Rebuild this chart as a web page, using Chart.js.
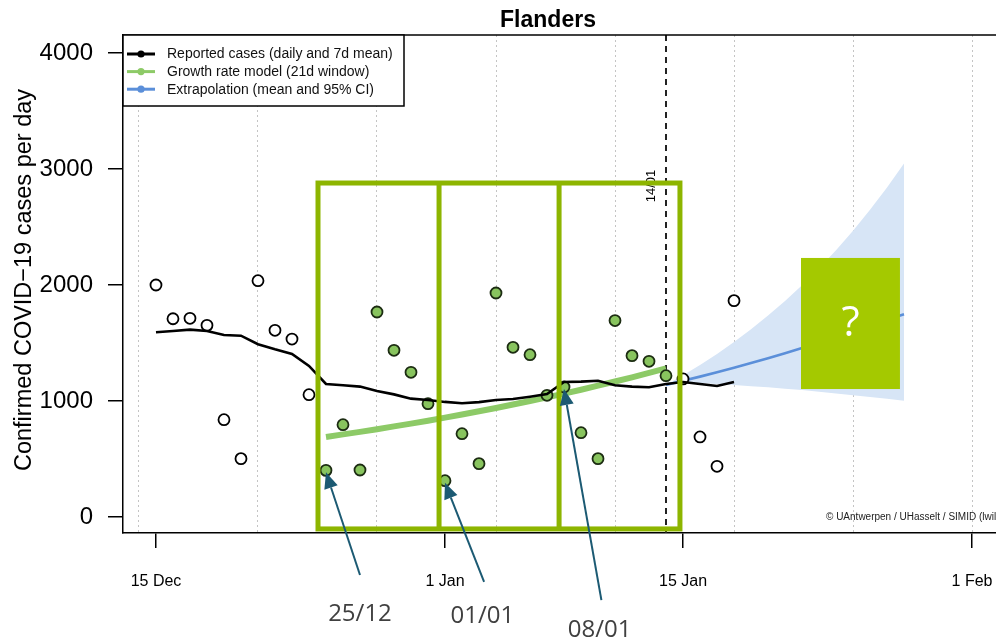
<!DOCTYPE html>
<html><head><meta charset="utf-8">
<script src="https://cdn.jsdelivr.net/npm/chart.js@4.4.1/dist/chart.umd.min.js"></script>
<style>html,body{margin:0;padding:0;background:#fff;overflow:hidden}</style>
</head><body>
<canvas id="c" width="996" height="641" style="width:996px;height:641px;display:block"></canvas>
<script>
// day index: 0 = 15 Dec
const reportDays = [0,1,2,3,4,5,6,7,8,9,10,11,12,13,14,15,16,17,18,19,20,21,22,23,24,25,26,27,28,29,30,31,32,33,34];
const reportedCases = [2000,1709,1713,1652,839,503,2037,1609,1534,1054,402,796,405,1767,1437,1247,977,313,718,460,1931,1463,1399,1049,1121,727,503,1693,1391,1342,1218,1190,690,437,1865];
const sevenDayMean = [1592,1603,1615,1603,1569,1563,1489,1445,1405,1302,1147,1135,1124,1086,1057,1020,1009,992,981,990,1009,1017,1037,1060,1164,1167,1175,1135,1124,1118,1147,1164,1147,1129,1164];
const modelDays = [10,11,12,13,14,15,16,17,18,19,20,21,22,23,24,25,26,27,28,29,30];
const growthModel = [690,712,734,757,781,805,830,857,884,911,940,970,1000,1031,1064,1097,1132,1168,1204,1242,1282];
const extrapDays = [30,31,32,33,34,35,36,37,38,39,40,41,42,43,44];
const extrapMean = [1138,1174,1210,1248,1287,1327,1369,1412,1456,1502,1549,1598,1648,1700,1747];
const extrapUpper = [1138,1221,1310,1405,1508,1618,1736,1862,1998,2144,2300,2468,2648,2841,3048];
const extrapLower = [1138,1160,1155,1147,1138,1128,1118,1106,1095,1080,1065,1050,1035,1020,1003];
const xTickDays = [0,17,31,48];
const xTickLabels = ['15 Dec','1 Jan','15 Jan','1 Feb'];
const gridDays = [-1,6,13,20,27,34,41,48];
const yTickValues = [0,1000,2000,3000,4000];
const forecastDay = 30;
const forecastLabel = '14/01';
const legendLabels = ['Reported cases (daily and 7d mean)','Growth rate model (21d window)','Extrapolation (mean and 95% CI)'];
const chartTitle = 'Flanders';
const yTitle = 'Confirmed COVID\u221219 cases per day';
const creditText = '\u00A9 UAntwerpen / UHasselt / SIMID (lwillem)';
const windowStartDay = 10, windowEndDay = 30;
// annotation overlay (in data units)
const boxEdgesDays = [9.53,16.65,23.71,30.82];
const boxValueRange = [-103,2879];
const calloutDays = [10,17,24];
const calloutLabels = ['25/12','01/01','08/01'];
const calloutTailDays = [12.0,19.3,26.2];
const calloutTailValues = [-500,-560,-716];
const calloutLabelDays = [12.0,19.2,26.1];
const calloutLabelValues = [-838,-855,-975];
const questionBoxDays = [37.94,43.76];
const questionBoxValues = [1103,2233];

const X_MIN = -1.94, X_MAX = 49.41, Y_MIN = -138, Y_MAX = 4155;

const toXY = (xs, ys) => xs.map((x,i)=>({x:x, y:ys[i]}));
const inWindow = d => d >= windowStartDay && d <= windowEndDay;

const overlay = {
  id:'overlay',
  beforeDatasetsDraw(chart){
    const {ctx, chartArea:a, scales:{x}} = chart;
    const px = Math.round(x.getPixelForValue(forecastDay));
    ctx.save();
    ctx.strokeStyle='#222'; ctx.lineWidth=2; ctx.setLineDash([6,5]);
    ctx.beginPath(); ctx.moveTo(px,a.top); ctx.lineTo(px,a.bottom); ctx.stroke();
    ctx.restore();
  },
  afterDatasetsDraw(chart){
    const {ctx, chartArea:a, scales:{x,y}} = chart;
    ctx.save();
    // top border
    ctx.strokeStyle='#000'; ctx.lineWidth=1.5;
    ctx.beginPath(); ctx.moveTo(a.left,a.top); ctx.lineTo(a.right+2,a.top); ctx.stroke();
    // legend
    const lx=a.left, ly=a.top, lw=281, lh=71;
    ctx.fillStyle='#fff'; ctx.fillRect(lx,ly,lw,lh);
    ctx.strokeStyle='#000'; ctx.lineWidth=1.5; ctx.strokeRect(lx,ly,lw,lh);
    const cols=['#000','#8dca67','#5b8fd9'];
    ctx.font='14px "Liberation Sans", Arial, sans-serif'; ctx.textBaseline='middle'; ctx.textAlign='left';
    legendLabels.forEach((t,i)=>{
      const ry = ly+19+i*17.6;
      ctx.strokeStyle=cols[i]; ctx.lineWidth=3;
      ctx.beginPath(); ctx.moveTo(lx+4,ry); ctx.lineTo(lx+32,ry); ctx.stroke();
      ctx.fillStyle=cols[i]; ctx.beginPath(); ctx.arc(lx+18,ry,3.6,0,Math.PI*2); ctx.fill();
      ctx.fillStyle='#111'; ctx.fillText(t, lx+44, ry+0.5);
    });
    // forecast label
    const fx = x.getPixelForValue(forecastDay);
    ctx.save(); ctx.translate(fx-11, 186); ctx.rotate(-Math.PI/2);
    ctx.font='13px "Liberation Sans", Arial, sans-serif'; ctx.textAlign='center'; ctx.textBaseline='alphabetic';
    ctx.fillStyle='#000'; ctx.fillText(forecastLabel,0,0); ctx.restore();
    // credit
    ctx.font='10px "Liberation Sans", Arial, sans-serif'; ctx.fillStyle='#222'; ctx.textAlign='left'; ctx.textBaseline='middle';
    ctx.fillText(creditText, 826, y.getPixelForValue(0));
    ctx.restore();
  },
  afterDraw(chart){
    const {ctx, scales:{x,y}} = chart;
    ctx.save();
    // title
    ctx.fillStyle='#000'; ctx.font='bold 23px "Liberation Sans", Arial, sans-serif';
    ctx.textAlign='center'; ctx.textBaseline='middle';
    ctx.fillText(chartTitle, 548, 21);
    // y title
    ctx.save(); ctx.translate(31, 280); ctx.rotate(-Math.PI/2);
    ctx.font='23.5px "Liberation Sans", Arial, sans-serif'; ctx.textAlign='center'; ctx.textBaseline='alphabetic';
    ctx.fillText(yTitle,0,0); ctx.restore();
    // green window boxes
    const bx = boxEdgesDays.map(d=>x.getPixelForValue(d));
    const by0 = y.getPixelForValue(boxValueRange[0]), by1 = y.getPixelForValue(boxValueRange[1]);
    ctx.strokeStyle='#8db500'; ctx.lineWidth=5; ctx.lineJoin='miter';
    ctx.strokeRect(bx[0], by1, bx[3]-bx[0], by0-by1);
    [bx[1],bx[2]].forEach(v=>{ctx.beginPath(); ctx.moveTo(v,by1); ctx.lineTo(v,by0); ctx.stroke();});
    // callout arrows
    ctx.strokeStyle='#1c5a73'; ctx.fillStyle='#1c5a73'; ctx.lineWidth=2;
    calloutDays.forEach((d,i)=>{
      const hx = x.getPixelForValue(d), hy = y.getPixelForValue(reportedCases[reportDays.indexOf(d)])+2;
      const tx = x.getPixelForValue(calloutTailDays[i]), ty = y.getPixelForValue(calloutTailValues[i]);
      const ang = Math.atan2(hy-ty, hx-tx);
      const L=16, W=7;
      const bxp = hx - L*Math.cos(ang), byp = hy - L*Math.sin(ang);
      ctx.beginPath(); ctx.moveTo(tx,ty); ctx.lineTo(bxp,byp); ctx.stroke();
      ctx.beginPath(); ctx.moveTo(hx,hy);
      ctx.lineTo(bxp + W*Math.sin(ang), byp - W*Math.cos(ang));
      ctx.lineTo(bxp - W*Math.sin(ang), byp + W*Math.cos(ang));
      ctx.closePath(); ctx.fill();
    });
    // callout labels
    ctx.fillStyle='#404040'; ctx.font='24px "Open Sans", "Noto Sans", sans-serif';
    ctx.textAlign='center'; ctx.textBaseline='middle';
    calloutLabels.forEach((t,i)=>{
      ctx.fillText(t, x.getPixelForValue(calloutLabelDays[i]), y.getPixelForValue(calloutLabelValues[i]));
    });
    // question box
    const qx0 = x.getPixelForValue(questionBoxDays[0]), qx1 = x.getPixelForValue(questionBoxDays[1]);
    const qy0 = y.getPixelForValue(questionBoxValues[1]), qy1 = y.getPixelForValue(questionBoxValues[0]);
    ctx.fillStyle='#a4c900'; ctx.fillRect(qx0,qy0,qx1-qx0,qy1-qy0);
    ctx.fillStyle='#fff'; ctx.font='42px "Open Sans", "Noto Sans", sans-serif';
    ctx.fillText('?', (qx0+qx1)/2, (qy0+qy1)/2+1);
    ctx.restore();
  }
};

const fixH = h => s => { s.height = h; s.paddingLeft = 0; s.paddingRight = 0; };

new Chart(document.getElementById('c'), {
  type:'line',
  data:{
    datasets:[
      {label:'7d mean', data:toXY(reportDays, sevenDayMean), borderColor:'#000', borderWidth:2.6, pointRadius:0, fill:false, order:1},
      {label:'daily', data:toXY(reportDays, reportedCases), showLine:false,
        pointRadius:5.5, pointBorderWidth:1.8,
        pointBackgroundColor: ctx => inWindow(reportDays[ctx.dataIndex]) ? '#88c45e' : '#ffffff',
        pointBorderColor: ctx => inWindow(reportDays[ctx.dataIndex]) ? '#1c2c12' : '#000',
        order:2},
      {label:'growth', data:toXY(modelDays, growthModel), borderColor:'#8dca67', borderWidth:6, pointRadius:0, fill:false, order:3},
      {label:'extrap', data:toXY(extrapDays, extrapMean), borderColor:'#5b8fd9', borderWidth:2.6, pointRadius:0, fill:false, order:4},
      {label:'upper', data:toXY(extrapDays, extrapUpper), borderWidth:0, borderColor:'rgba(0,0,0,0)', pointRadius:0, backgroundColor:'#d7e5f6', fill:{target:5}, order:5},
      {label:'lower', data:toXY(extrapDays, extrapLower), borderWidth:0, borderColor:'rgba(0,0,0,0)', pointRadius:0, fill:false, order:6}
    ]
  },
  options:{
    responsive:false, animation:false, devicePixelRatio:1,
    layout:{padding:0, autoPadding:false},
    plugins:{legend:{display:false}, title:{display:false}, tooltip:{enabled:false}},
    elements:{line:{tension:0}},
    scales:{
      x:{type:'linear', position:'bottom', min:X_MIN, max:X_MAX,
        afterBuildTicks: s => { s.ticks = xTickDays.map(v=>({value:v})); },
        afterFit: fixH(108),
        ticks:{callback:(v)=>xTickLabels[xTickDays.indexOf(v)], autoSkip:false, maxRotation:0, padding:24,
          color:'#000', font:{size:16, family:'"Liberation Sans", Arial, sans-serif'}},
        grid:{drawOnChartArea:false, drawTicks:true, tickLength:15, color:'#000', lineWidth:1.5},
        border:{display:true, color:'#000', width:1.5}},
      x2:{type:'linear', position:'top', min:X_MIN, max:X_MAX,
        afterBuildTicks: s => { s.ticks = gridDays.map(v=>({value:v})); },
        afterFit: fixH(35),
        ticks:{display:false},
        grid:{drawOnChartArea:true, drawTicks:false, color:'#c4c4c4', lineWidth:1},
        border:{display:false, dash:[2,3]}},
      y:{type:'linear', min:Y_MIN, max:Y_MAX,
        afterBuildTicks: s => { s.ticks = yTickValues.map(v=>({value:v})); },
        afterFit: s => { s.width = 123; s.paddingTop = 0; s.paddingBottom = 0; },
        ticks:{callback:(v)=>String(v), padding:15, color:'#000', font:{size:24, family:'"Liberation Sans", Arial, sans-serif'}},
        grid:{drawOnChartArea:false, drawTicks:true, tickLength:15, color:'#000', lineWidth:1.5},
        border:{display:true, color:'#000', width:1.5}}
    }
  },
  plugins:[overlay]
});
</script>
</body></html>
